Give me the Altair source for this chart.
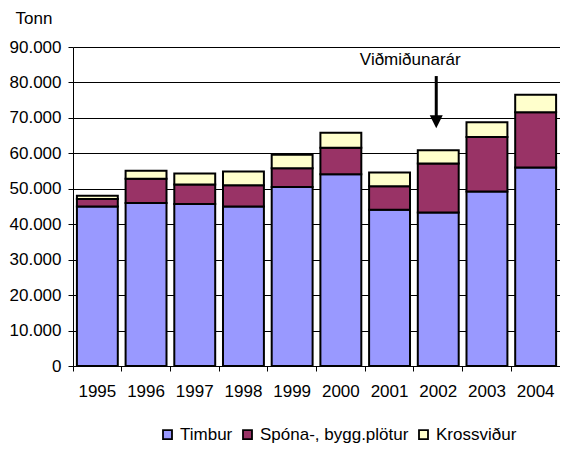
import altair as alt
import pandas as pd

# ---- data ----
years = ["1995", "1996", "1997", "1998", "1999", "2000", "2001", "2002", "2003", "2004"]
series_names = ["Timbur", "Spóna-, bygg.plötur", "Krossviður"]
timbur = [45000, 46000, 45700, 45000, 50500, 54100, 44100, 43300, 49200, 56000]
spona = [2100, 6800, 5500, 6000, 5300, 7500, 6600, 13800, 15400, 15600]
kross = [900, 2300, 3100, 3900, 3800, 4200, 3900, 3800, 4200, 4900]
series_colors = ["#9999FF", "#993366", "#FFFFCC"]
y_ticks = [0, 10000, 20000, 30000, 40000, 50000, 60000, 70000, 80000, 90000]

# annotation
annot_year = "2002"
annot_label = "Viðmiðunarár"
annot_text_y = [84800]
arrow_from = [81800]
arrow_to = [70500]
arrow_tip = [68900]

rows = []
for k, (name, vals) in enumerate(zip(series_names, [timbur, spona, kross])):
    for i, yr in enumerate(years):
        rows.append({"year": yr, "series": name, "value": vals[i], "order": k})
df = pd.DataFrame(rows)

annot_df = pd.DataFrame({
    "year": [annot_year],
    "label": [annot_label],
    "ty": annot_text_y,
    "a1": arrow_from,
    "a2": arrow_to,
    "tip": arrow_tip,
})

W, H = 487, 319
FONT = "Liberation Sans"

x_axis = alt.Axis(
    title=None, bandPosition=0, tickSize=5,
    tickColor="black", domainColor="black", labelAngle=0, labelPadding=12,
    labelFontSize=17, grid=False, labelColor="black", labelFont=FONT,
)
x_scale = alt.Scale(paddingInner=0, paddingOuter=0)

y_axis = alt.Axis(
    values=y_ticks, title="Tonn", titleAngle=0, titleAlign="left",
    titleBaseline="alphabetic", titleX=-58, titleY=-24, titleFontSize=17,
    titleFontWeight="normal", titleColor="black", titleFont=FONT,
    labelExpr="replace(format(datum.value, ','), ',', '.')",
    labelFontSize=17, labelColor="black", labelFont=FONT, tickSize=5,
    labelPadding=7, labelOverlap=False, gridColor="black", gridWidth=1,
    gridOpacity=1, domainColor="black", tickColor="black",
)
y_scale = alt.Scale(domain=[0, 90000], nice=False)


def xenc():
    return alt.X("year:N", sort=years, scale=x_scale, axis=x_axis)


def yenc(field):
    return alt.Y(field, scale=y_scale, axis=y_axis)


bars = alt.Chart(df).mark_bar(
    width=alt.RelativeBandSize(0.84), stroke="black", strokeWidth=2
).encode(
    x=xenc(),
    y=alt.Y("value:Q", stack="zero", scale=y_scale, axis=y_axis),
    fill=alt.Fill(
        "series:N",
        scale=alt.Scale(domain=series_names, range=series_colors),
        legend=alt.Legend(
            orient="none", legendX=86, legendY=379, direction="horizontal",
            title=None, symbolType="square", symbolSize=81,
            symbolStrokeColor="black", symbolStrokeWidth=1.8,
            labelFontSize=17, labelFont=FONT, labelColor="black",
            labelOffset=4, columnPadding=6, padding=0,
        ),
    ),
    order=alt.Order("order:Q", sort="ascending"),
)

rule = alt.Chart(annot_df).mark_rule(
    strokeWidth=3, color="black", xOffset=-2
).encode(
    x=xenc(),
    y=yenc("a1:Q"),
    y2="a2:Q",
)

tip = alt.Chart(annot_df).mark_point(
    shape="M-1,-1L1,-1L0,1Z", filled=True, size=169, color="black",
    opacity=1, strokeWidth=0, xOffset=-2,
).encode(
    x=xenc(),
    y=yenc("tip:Q"),
)

label = alt.Chart(annot_df).mark_text(
    fontSize=17, font=FONT, dx=-28, baseline="alphabetic", align="center",
    color="black",
).encode(
    x=xenc(),
    y=yenc("ty:Q"),
    text="label:N",
)

chart = alt.layer(bars, rule, tip, label).properties(
    width=W, height=H,
    autosize=alt.AutoSizeParams(type="none"),
    padding={"left": 65, "top": 39, "right": 0, "bottom": 80},
    background="white",
).configure(font=FONT).configure_view(stroke=None)

chart.save("out.html", embed_options={"renderer": "svg", "actions": False})
